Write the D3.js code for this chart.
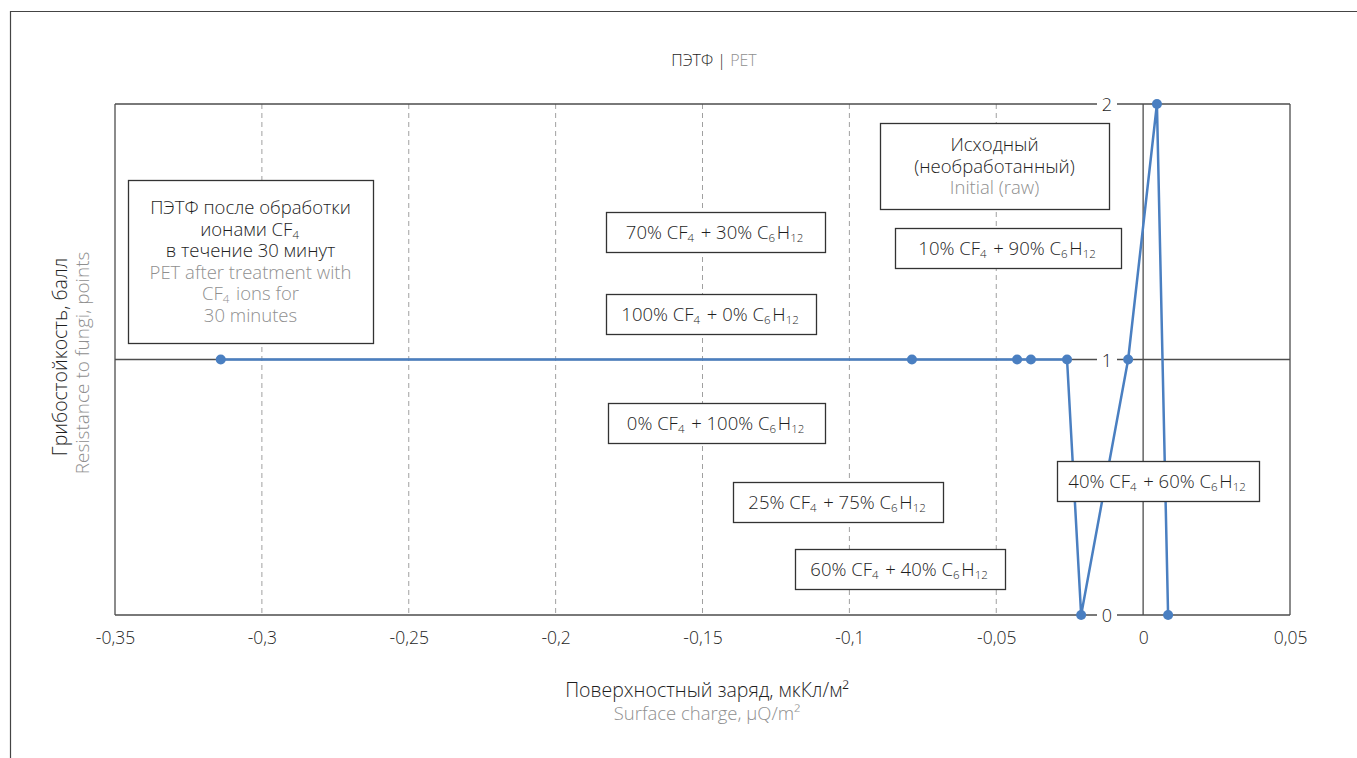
<!DOCTYPE html>
<html><head><meta charset="utf-8">
<script src="https://cdn.jsdelivr.net/npm/d3@7"></script>
<style>
html,body{margin:0;padding:0;background:#fff;}
svg{display:block;font-family:"Open Sans","Noto Sans",sans-serif;font-weight:300;}
</style></head>
<body>
<svg id="chart" width="1357" height="758"></svg>
<script>
// ---- data ----
const chargeValues = [-0.314, -0.0787, -0.0429, -0.0382, -0.0259, -0.0211, -0.0051, 0.0047, 0.0085];
const resistanceValues = [1, 1, 1, 1, 1, 0, 1, 2, 0];
const xTickValues = [-0.35, -0.3, -0.25, -0.2, -0.15, -0.1, -0.05, 0, 0.05];
const xTickLabels = ["-0,35", "-0,3", "-0,25", "-0,2", "-0,15", "-0,1", "-0,05", "0", "0,05"];
const yTickValues = [0, 1, 2];
const yTickLabels = ["0", "1", "2"];
const annotationTexts = [
  {ru: ["ПЭТФ после обработки", "ионами CF_{4}", "в течение 30 минут"], en: ["PET after treatment with", "CF_{4} ions for", "30 minutes"]},
  {ru: ["Исходный", "(необработанный)"], en: ["Initial (raw)"]},
  {ru: ["70% CF_{4} + 30% C_{6}H_{12}"], en: []},
  {ru: ["10% CF_{4} + 90% C_{6}H_{12}"], en: []},
  {ru: ["100% CF_{4} + 0% C_{6}H_{12}"], en: []},
  {ru: ["0% CF_{4} + 100% C_{6}H_{12}"], en: []},
  {ru: ["40% CF_{4} + 60% C_{6}H_{12}"], en: []},
  {ru: ["25% CF_{4} + 75% C_{6}H_{12}"], en: []},
  {ru: ["60% CF_{4} + 40% C_{6}H_{12}"], en: []}
];

// ---- layout ----
const boxLayout = [
  {x: 128, y: 180, w: 245, h: 163},
  {x: 880, y: 123, w: 229, h: 86},
  {x: 606, y: 212, w: 219, h: 40},
  {x: 895, y: 228, w: 226, h: 40},
  {x: 606, y: 294, w: 210, h: 40},
  {x: 608, y: 403, w: 217, h: 40},
  {x: 1057, y: 461, w: 202, h: 40},
  {x: 733, y: 482, w: 210, h: 40},
  {x: 795, y: 549, w: 210, h: 40}
];

const svg = d3.select("#chart");
const L = 115, R = 1290, T = 104, B = 615;
const x = d3.scaleLinear().domain([-0.35, 0.05]).range([L, R]);
const y = d3.scaleLinear().domain([0, 2]).range([B, T]);
const frameColor = "#4d4d4d", blue = "#4a7fc1", grey = "#8f8f8f", dark = "#1e1e1e";

// outer border
svg.append("path").attr("d", "M10.5,758 V11.5 H1357").attr("fill", "none").attr("stroke", "#444").attr("stroke-width", 1.2);

// title
const title = svg.append("text").attr("x", 714).attr("y", 66).attr("text-anchor", "middle").attr("font-size", 16);
title.append("tspan").attr("fill", dark).text("ПЭТФ | ");
title.append("tspan").attr("fill", grey).text("PET");

// dashed gridlines
svg.append("g").selectAll("line").data(xTickValues.filter(v => v > -0.35 && v < 0))
  .join("line").attr("x1", d => x(d)).attr("x2", d => x(d)).attr("y1", T).attr("y2", B)
  .attr("stroke", "#a0a0a0").attr("stroke-width", 1).attr("stroke-dasharray", "5,4");

// frame lines
const fg = svg.append("g").attr("stroke", frameColor).attr("stroke-width", 1.3).attr("fill", "none");
fg.append("line").attr("x1", L).attr("x2", L).attr("y1", T).attr("y2", B);
fg.append("line").attr("x1", R).attr("x2", R).attr("y1", T).attr("y2", B);
fg.append("line").attr("x1", x(0)).attr("x2", x(0)).attr("y1", T).attr("y2", B);
fg.selectAll("line.h").data(yTickValues).join("line").attr("class", "h")
  .attr("x1", L).attr("x2", R).attr("y1", d => y(d)).attr("y2", d => y(d));

// y tick labels on the lines, with white gap
const yLabX = 1107;
const yt = svg.append("g").selectAll("g").data(yTickValues).join("g");
yt.append("rect").attr("x", yLabX - 10).attr("y", d => y(d) - 6).attr("width", 20).attr("height", 12).attr("fill", "#fff");
yt.append("text").attr("x", yLabX).attr("y", d => y(d) + 7).attr("text-anchor", "middle")
  .attr("font-size", 18).attr("fill", dark).text((d, i) => yTickLabels[i]);

// x axis tick labels
const xAxis = d3.axisBottom(x).tickValues(xTickValues).tickSize(0).tickPadding(0)
  .tickFormat((d, i) => xTickLabels[i]);
const xg = svg.append("g").attr("transform", `translate(0,${B + 17})`).call(xAxis);
xg.select(".domain").remove();
xg.selectAll("text").attr("font-size", 17.5).attr("fill", dark)
  .attr("font-family", "'Open Sans','Noto Sans',sans-serif").attr("font-weight", 300);

// axis titles
svg.append("text").attr("x", 707).attr("y", 697).attr("text-anchor", "middle").attr("font-size", 19.5).attr("fill", dark).text("Поверхностный заряд, мкКл/м²");
svg.append("text").attr("x", 707).attr("y", 720).attr("text-anchor", "middle").attr("font-size", 18.5).attr("fill", grey).text("Surface charge, µQ/m²");
svg.append("text").attr("transform", "translate(67,357) rotate(-90)").attr("text-anchor", "middle").attr("font-size", 19.5).attr("fill", dark).text("Грибостойкость, балл");
svg.append("text").attr("transform", "translate(89,363) rotate(-90)").attr("text-anchor", "middle").attr("font-size", 19).attr("fill", grey).text("Resistance to fungi, points");

// data line
const pts = chargeValues.map((v, i) => [v, resistanceValues[i]]);
svg.append("path").datum(pts)
  .attr("d", d3.line().x(d => x(d[0])).y(d => y(d[1])))
  .attr("fill", "none").attr("stroke", blue).attr("stroke-width", 2.5).attr("stroke-linejoin", "round");
svg.append("g").selectAll("circle").data(pts).join("circle")
  .attr("cx", d => x(d[0])).attr("cy", d => y(d[1])).attr("r", 5).attr("fill", blue);

// annotation boxes
function addRich(textSel, str) {
  const parts = str.split(/(_\{[^}]*\})/).filter(s => s.length);
  parts.forEach(p => {
    if (p.startsWith("_{")) {
      textSel.append("tspan").attr("font-size", 11.5).attr("dy", 3).text(p.slice(2, -1));
      textSel.append("tspan").attr("dy", -3).text("\u200A");
    } else {
      textSel.append("tspan").text(p);
    }
  });
}
annotationTexts.forEach((a, i) => {
  const b = boxLayout[i];
  const g = svg.append("g");
  g.append("rect").attr("x", b.x + 0.5).attr("y", b.y + 0.5).attr("width", b.w).attr("height", b.h)
    .attr("fill", "#fff").attr("stroke", "#333").attr("stroke-width", 1.3);
  const lines = a.ru.map(s => ({s, c: dark})).concat(a.en.map(s => ({s, c: grey})));
  const lh = 21.5;
  const cx = b.x + b.w / 2;
  const startY = b.y + b.h / 2 - (lines.length - 1) * lh / 2 + 6.5;
  lines.forEach((ln, j) => {
    const t = g.append("text").attr("x", cx).attr("y", startY + j * lh).attr("text-anchor", "middle")
      .attr("font-size", 18.5).attr("fill", ln.c);
    addRich(t, ln.s);
  });
});
</script>
</body></html>
